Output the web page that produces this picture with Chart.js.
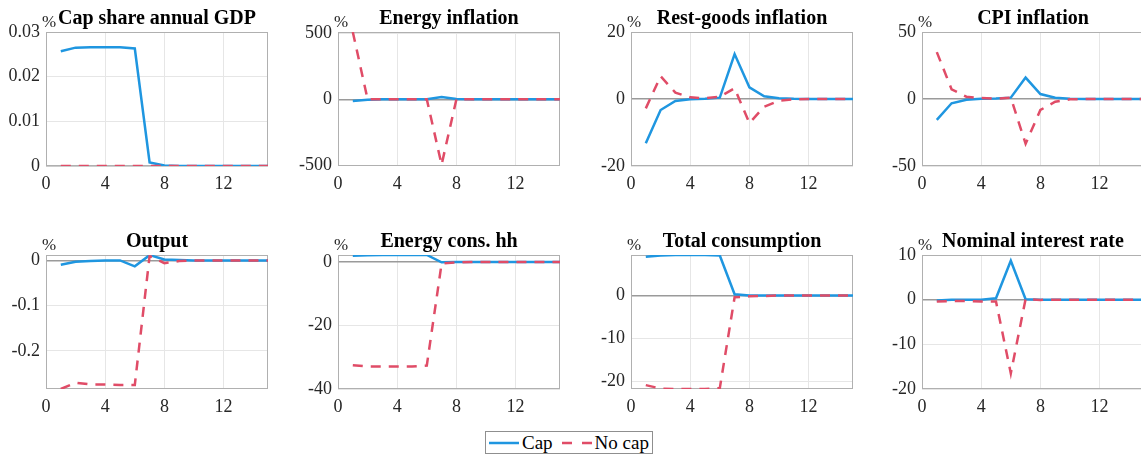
<!DOCTYPE html>
<html>
<head>
<meta charset="utf-8">
<script src="https://cdn.jsdelivr.net/npm/chart.js@4.4.1/dist/chart.umd.min.js"></script>
<style>
body { margin: 0; background: #fff; overflow: hidden; }
#wrap { position: relative; width: 1141px; height: 455px; overflow: hidden; }
#wrap canvas { position: absolute; }
#legend {
  position: absolute; left: 485px; top: 431px; width: 166px; height: 21px;
  border: 1px solid #8f8f8f; background: #fff;
  font-family: "Liberation Serif", serif; font-size: 19px; color: #000;
  display: flex; align-items: center;
}
#legend svg { display: block; }
#legend .lbl { line-height: 21px; }
</style>
</head>
<body>
<div id="wrap">
  <div id="legend"></div>
</div>
<script>
// quarters after the shock
const periods = [1, 2, 3, 4, 5, 6, 7, 8, 9, 10, 11, 12, 13, 14, 15];
const seriesNames = ['Cap', 'No cap'];
const titles = ['Cap share annual GDP', 'Energy inflation', 'Rest-goods inflation', 'CPI inflation',
                'Output', 'Energy cons. hh', 'Total consumption', 'Nominal interest rate'];

const capShareCap   = [0.0257, 0.0265, 0.0266, 0.0266, 0.0266, 0.0263, 0.0008, 0.0001, 0, 0, 0, 0, 0, 0, 0];
const capShareNoCap = [0, 0, 0, 0, 0, 0, 0, 0, 0, 0, 0, 0, 0, 0, 0];

const energyInflCap   = [-12, -3, 0, 0, 0, 1, 17, 2, 0.5, 0, 0, 0, 0, 0, 0];
const energyInflNoCap = [512, 0, 0, 0, 0, 0, -497, 0, 0, 0, 0, 0, 0, 0, 0];

const restGoodsCap   = [-13.2, -3.3, -0.6, -0.1, 0.1, 0.4, 13.4, 3.5, 0.8, 0.2, 0.05, 0, 0, 0, 0];
const restGoodsNoCap = [-2.8, 6.8, 1.9, 0.5, 0.2, 0.7, 3.2, -7.2, -2.3, -0.5, -0.1, 0, 0, 0, 0];

const cpiCap   = [-15.6, -3.2, -0.5, 0.2, 0.3, 1.0, 16.0, 3.7, 1.0, 0.2, 0, 0, 0, 0, 0];
const cpiNoCap = [35, 7.2, 1.7, 0.7, 0.2, 1.0, -33.4, -8.2, -2.0, -0.2, 0, 0, 0, 0, 0];

const outputCap   = [-0.0095, -0.003, -0.001, 0, 0, -0.013, 0.0117, 0.002, 0.0007, 0, 0, 0, 0, 0, 0];
const outputNoCap = [-0.284, -0.27, -0.274, -0.274, -0.275, -0.275, 0.010, -0.006, -0.0015, 0, 0, 0, 0, 0, 0];

const energyConsCap   = [2.0, 2.1, 2.2, 2.2, 2.2, 2.2, -0.1, 0, 0, 0, 0, 0, 0, 0, 0];
const energyConsNoCap = [-32.5, -32.9, -32.9, -32.9, -32.9, -32.6, -0.5, -0.1, 0, 0, 0, 0, 0, 0, 0];

const totalConsCap   = [9.0, 9.3, 9.4, 9.4, 9.4, 9.3, 0.3, 0, 0, 0, 0, 0, 0, 0, 0];
const totalConsNoCap = [-20.8, -21.6, -21.7, -21.7, -21.7, -21.5, -0.4, -0.2, -0.1, 0, 0, 0, 0, 0, 0];

const interestCap   = [-0.2, 0, 0, 0, 0.3, 8.7, 0.1, 0, 0, 0, 0, 0, 0, 0, 0];
const interestNoCap = [-0.4, -0.3, -0.3, -0.4, -0.4, -16.5, 0.15, -0.05, 0, 0, 0, 0, 0, 0, 0];

// axis ticks
const xTicks = [0, 4, 8, 12];
const yTicksCapShare = [0, 0.01, 0.02, 0.03];
const yTicksEnergyInfl = [-500, 0, 500];
const yTicksRestGoods = [-20, 0, 20];
const yTicksCpi = [-50, 0, 50];
const yTicksOutput = [-0.2, -0.1, 0];
const yTicksEnergyCons = [-40, -20, 0];
const yTicksTotalCons = [-20, -10, 0];
const yTicksInterest = [-20, -10, 0, 10];

const yRanges = [[0, 0.03], [-507, 512], [-20, 20], [-50, 50],
                 [-0.284, 0.012], [-40, 2.2], [-21.7, 9.4], [-20, 10]];

const panels = [
  [capShareCap, capShareNoCap, yTicksCapShare],
  [energyInflCap, energyInflNoCap, yTicksEnergyInfl],
  [restGoodsCap, restGoodsNoCap, yTicksRestGoods],
  [cpiCap, cpiNoCap, yTicksCpi],
  [outputCap, outputNoCap, yTicksOutput],
  [energyConsCap, energyConsNoCap, yTicksEnergyCons],
  [totalConsCap, totalConsNoCap, yTicksTotalCons],
  [interestCap, interestNoCap, yTicksInterest]
];

const blue = '#1f96e0';
const red = '#e04c67';
const fontFam = '"Liberation Serif", serif';

// plot-area placement
const plotLefts = [46, 338, 631, 922];
const plotTops = [32, 255];
const yAxisW = 46, xAxisH = 30, padTop = 32, padRight = 6;
const plotW = 222, plotH = 134;

const panelDecor = {
  id: 'panelDecor',
  beforeDatasetsDraw(chart) {
    const { ctx, chartArea: a } = chart;
    ctx.save();
    ctx.strokeStyle = '#b0b0b0';
    ctx.lineWidth = 1;
    ctx.strokeRect(a.left + 0.5, a.top + 0.5, a.right - a.left - 1, a.bottom - a.top - 1);
    ctx.restore();
  },
  afterDraw(chart, args, opts) {
    const { ctx, chartArea: a } = chart;
    ctx.save();
    ctx.textAlign = 'center';
    ctx.textBaseline = 'alphabetic';
    ctx.fillStyle = '#000';
    ctx.font = 'bold 20px ' + fontFam;
    ctx.fillText(opts.title, (a.left + a.right) / 2, a.top - 8);
    ctx.fillStyle = '#262626';
    ctx.font = '17px ' + fontFam;
    ctx.fillText('%', a.left + 3, a.top - 5);
    ctx.restore();
  }
};

const wrap = document.getElementById('wrap');

panels.forEach((p, i) => {
  const col = i % 4, row = Math.floor(i / 4);
  const canvas = document.createElement('canvas');
  canvas.width = yAxisW + plotW + padRight;
  canvas.height = padTop + plotH + xAxisH;
  canvas.style.left = (plotLefts[col] - yAxisW) + 'px';
  canvas.style.top = (plotTops[row] - padTop) + 'px';
  wrap.appendChild(canvas);

  const yTicks = p[2];
  new Chart(canvas, {
    type: 'line',
    data: {
      datasets: [
        {
          label: seriesNames[0],
          data: periods.map((x, k) => ({ x: x, y: p[0][k] })),
          borderColor: blue, borderWidth: 2.5, order: 2
        },
        {
          label: seriesNames[1],
          data: periods.map((x, k) => ({ x: x, y: p[1][k] })),
          borderColor: red, borderWidth: 2.5, borderDash: [10, 8], order: 1
        }
      ]
    },
    options: {
      responsive: false,
      animation: false,
      layout: { padding: { top: padTop, right: padRight, left: 0, bottom: 0 } },
      elements: { point: { radius: 0 }, line: { tension: 0 } },
      plugins: {
        legend: { display: false },
        tooltip: { enabled: false },
        panelDecor: { title: titles[i] }
      },
      scales: {
        x: {
          type: 'linear', min: 0, max: 15,
          afterBuildTicks: s => { s.ticks = xTicks.map(v => ({ value: v })); },
          afterFit: s => { s.height = xAxisH; },
          grid: { color: '#e6e6e6', drawTicks: false },
          border: { display: false },
          ticks: { padding: 7, color: '#262626', maxRotation: 0, font: { family: fontFam, size: 18 } }
        },
        y: {
          min: yRanges[i][0], max: yRanges[i][1],
          afterBuildTicks: s => { s.ticks = yTicks.map(v => ({ value: v })); },
          afterFit: s => { s.width = yAxisW; },
          grid: {
            color: c => c.tick && c.tick.value === 0 ? '#9a9a9a' : '#e6e6e6',
            lineWidth: c => c.tick && c.tick.value === 0 ? 1.5 : 1,
            drawTicks: false
          },
          border: { display: false },
          ticks: { padding: 6, color: '#262626', font: { family: fontFam, size: 18 } }
        }
      }
    },
    plugins: [panelDecor]
  });
});

// shared legend
const legend = document.getElementById('legend');
const legendStyles = [
  { color: blue, dash: '' },
  { color: red, dash: '10,10' }
];
seriesNames.forEach((name, k) => {
  const svgNS = 'http://www.w3.org/2000/svg';
  const svg = document.createElementNS(svgNS, 'svg');
  svg.setAttribute('width', '30');
  svg.setAttribute('height', '6');
  svg.style.marginLeft = k === 0 ? '3px' : '9px';
  svg.style.marginRight = '3px';
  const ln = document.createElementNS(svgNS, 'line');
  ln.setAttribute('x1', '0'); ln.setAttribute('y1', '3');
  ln.setAttribute('x2', '30'); ln.setAttribute('y2', '3');
  ln.setAttribute('stroke', legendStyles[k].color);
  ln.setAttribute('stroke-width', '2.5');
  if (legendStyles[k].dash) ln.setAttribute('stroke-dasharray', legendStyles[k].dash);
  svg.appendChild(ln);
  const lbl = document.createElement('span');
  lbl.className = 'lbl';
  lbl.textContent = name;
  legend.appendChild(svg);
  legend.appendChild(lbl);
});
</script>
</body>
</html>
